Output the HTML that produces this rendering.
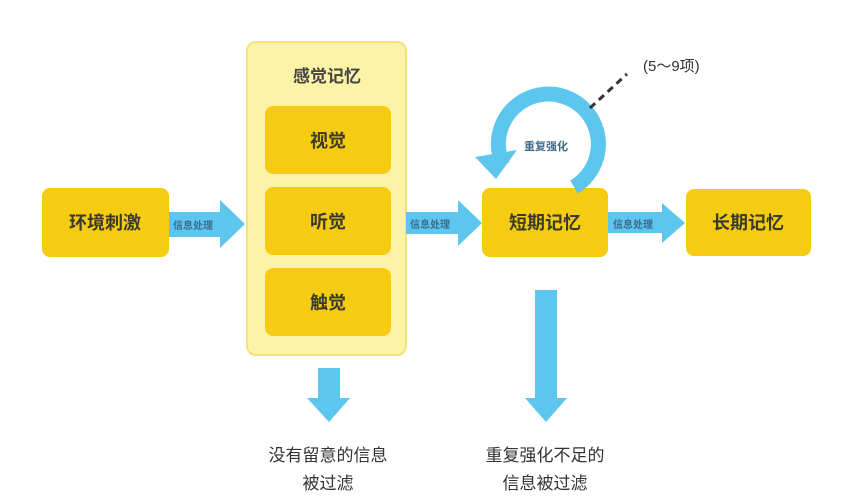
<!DOCTYPE html>
<html><head><meta charset="utf-8"><style>
body{margin:0;background:#fff;}
svg text{font-family:"Liberation Sans","Noto Sans CJK SC",sans-serif;}
</style></head><body>
<svg width="854" height="492" xmlns="http://www.w3.org/2000/svg">
<rect x="0" y="0" width="854" height="492" fill="#fff"/>
<rect x="247" y="42" width="159" height="313" rx="9" fill="#fdf3a6" stroke="#f1e27e" stroke-width="2"/>
<text x="327" y="82" font-size="17" font-weight="bold" fill="#444" text-anchor="middle">感觉记忆</text>
<g fill="#f5cc12">
<rect x="265" y="106" width="126" height="68" rx="8"/>
<rect x="265" y="187" width="126" height="68" rx="8"/>
<rect x="265" y="268" width="126" height="68" rx="8"/>
<rect x="42" y="188" width="127" height="69" rx="8"/>
<rect x="482" y="188" width="126" height="69" rx="8"/>
<rect x="686" y="189" width="125" height="67" rx="8"/>
</g>
<g font-size="18" font-weight="bold" fill="#3a3a2a" text-anchor="middle">
<text x="328" y="147">视觉</text>
<text x="328" y="228">听觉</text>
<text x="328" y="309">触觉</text>
<text x="105" y="229">环境刺激</text>
<text x="545" y="229">短期记忆</text>
<text x="748" y="229">长期记忆</text>
</g>
<g fill="#5cc6ef">
<polygon points="169,212 220,212 220,200 245,224 220,248 220,237 169,237"/>
<polygon points="406,212 458,212 458,200 482,223 458,246 458,234 406,234"/>
<polygon points="608,212 662,212 662,203 685,223 662,243 662,233 608,233"/>
<polygon points="318,368 340,368 340,398 350,398 329,422 307,398 318,398"/>
<polygon points="535,290 557,290 557,398 567,398 546,422 525,398 535,398"/>
<polygon points="475,157 517,150 496,179"/>
</g>
<path d="M574,187 A50,50 0 1 0 503,165" fill="none" stroke="#5cc6ef" stroke-width="15"/>
<g font-size="10" font-weight="bold" fill="#3e6b8c">
<text x="173" y="229">信息处理</text>
<text x="410" y="228">信息处理</text>
<text x="613" y="228">信息处理</text>
<text x="524" y="150" font-size="11">重复强化</text>
</g>
<line x1="590" y1="108" x2="627" y2="74" stroke="#333" stroke-width="3" stroke-dasharray="7,5"/>
<text x="643" y="71" font-size="15" fill="#333">(5～9项)</text>
<g font-size="17" fill="#333" text-anchor="middle">
<text x="328" y="461">没有留意的信息</text>
<text x="328" y="489">被过滤</text>
<text x="545" y="461">重复强化不足的</text>
<text x="545" y="489">信息被过滤</text>
</g>
</svg>
</body></html>
